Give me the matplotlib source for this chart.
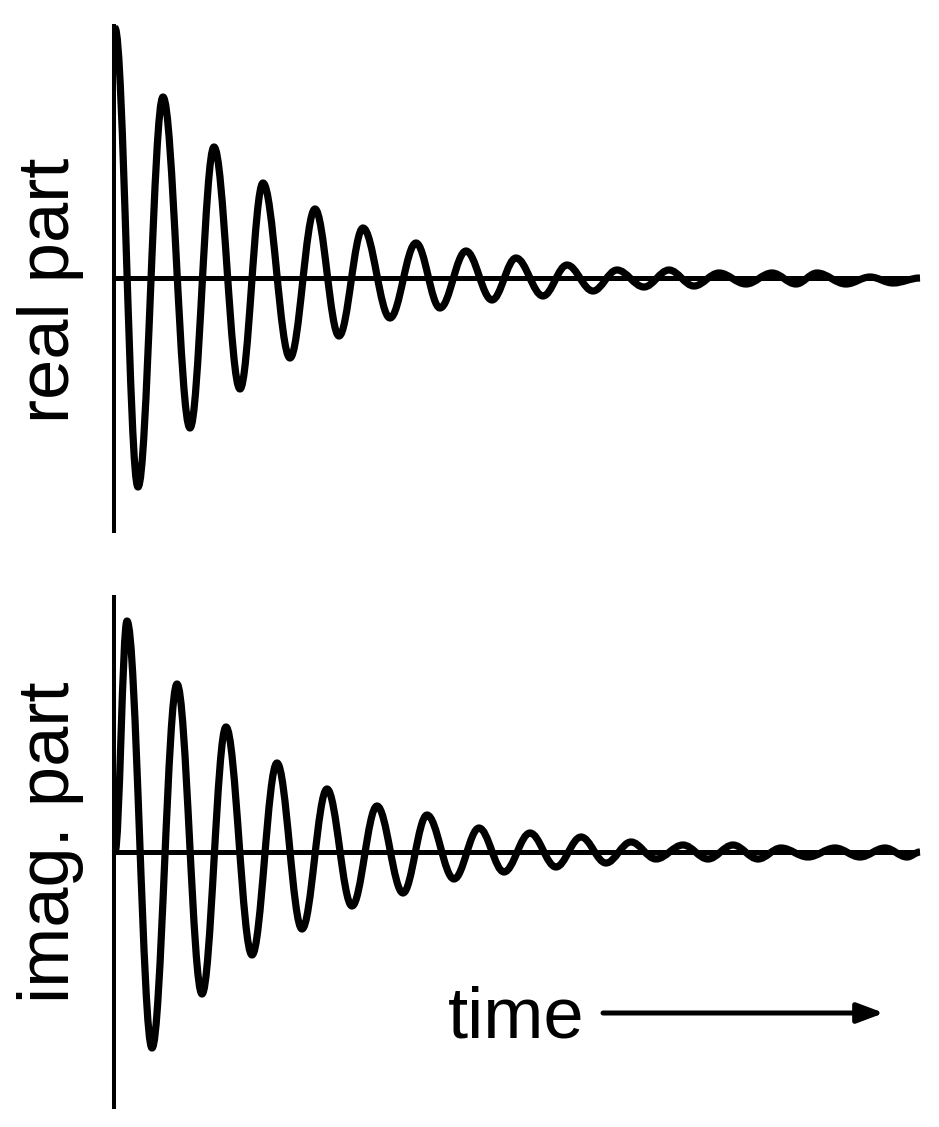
import numpy as np
import matplotlib
matplotlib.use('Agg')
import matplotlib.pyplot as plt
from matplotlib.path import Path
from matplotlib.patches import PathPatch

# Extrema of the decaying signal
# (time in pixels from the y axis, amplitude in pixels from the zero line).
real_t = [1, 24, 49, 76, 100, 126, 149, 176, 201, 225, 249, 276, 302, 326, 352, 378,
          402, 429, 453, 479, 503, 530, 555, 580, 605, 632, 658, 682, 703, 732, 756, 779, 806]
real_amp = [250, -209, 181, -150, 131, -111, 95, -80, 69, -58, 50, -40, 35, -30, 27, -22,
            20, -18, 13, -13, 8, -9, 8, -8, 5, -6, 5, -6, 5, -6, 1, -5, 0]

imag_t = [1, 13, 38, 63, 88, 112, 138, 163, 188, 213, 238, 263, 289, 313, 340, 365, 390,
          416, 442, 467, 492, 517, 542, 569, 594, 619, 644, 667, 694, 721, 746, 771, 793, 806]
imag_amp = [0, 231, -196, 168, -142, 125, -103, 89, -77, 63, -54, 46, -41, 37, -27, 24, -20,
            19, -15, 15, -11, 10, -7, 7, -7, 7, -7, 4, -5, 4, -5, 4, -5, 0]

labels = ['real part', 'imag. part']
xlabel = 'time'

plt.rcParams['font.family'] = ['Liberation Sans', 'DejaVu Sans']

W, H = 939, 1127
fig = plt.figure(figsize=(W / 100, H / 100), dpi=100)


def px_axes(left, right, top, bottom):
    # axes placed by pixel edges of the figure
    return fig.add_axes([left / W, 1 - bottom / H, (right - left) / W, (bottom - top) / H])


def smooth_path(t, a, k=0.3642):
    # cosine-like bezier half cycles between the read extrema
    verts = [(t[0], a[0])]
    codes = [Path.MOVETO]
    for i in range(len(t) - 1):
        dx = t[i + 1] - t[i]
        verts += [(t[i] + k * dx, a[i]), (t[i + 1] - k * dx, a[i + 1]), (t[i + 1], a[i + 1])]
        codes += [Path.CURVE4] * 3
    return Path(verts, codes)


panels = [
    (px_axes(114, 920, 24, 533), real_t, real_amp, (-255, 254), 290),
    (px_axes(114, 920, 595, 1109), imag_t, imag_amp, (-257, 257), 842),
]

for (ax, t, a, ylim, label_y), label in zip(panels, labels):
    ax.set_xlim(0, 806)
    ax.set_ylim(*ylim)
    ax.axis('off')
    ax.plot([0, 0], ylim, color='black', lw=2.9, solid_capstyle='butt', clip_on=False)
    ax.axhline(0, color='black', lw=3.6)
    ax.add_patch(PathPatch(smooth_path(t, a), facecolor='none', edgecolor='black',
                           lw=5.2, capstyle='butt', joinstyle='round', clip_on=False))
    fig.text(50 / W, 1 - label_y / H, label, rotation=90, ha='center', va='center',
             fontsize=52)

# time arrow
fig.text(448 / W, 1 - 1037 / H, xlabel, ha='left', va='baseline', fontsize=52)
ax = panels[1][0]
ax.annotate('', xy=(884, H - 1013), xytext=(603, H - 1013), xycoords='figure pixels',
            textcoords='figure pixels',
            arrowprops=dict(arrowstyle='-|>,head_length=0.8,head_width=0.3',
                            mutation_scale=20, lw=3.6, color='black',
                            shrinkA=0, shrinkB=0))

fig.savefig('out.png', dpi=100, facecolor='white')
